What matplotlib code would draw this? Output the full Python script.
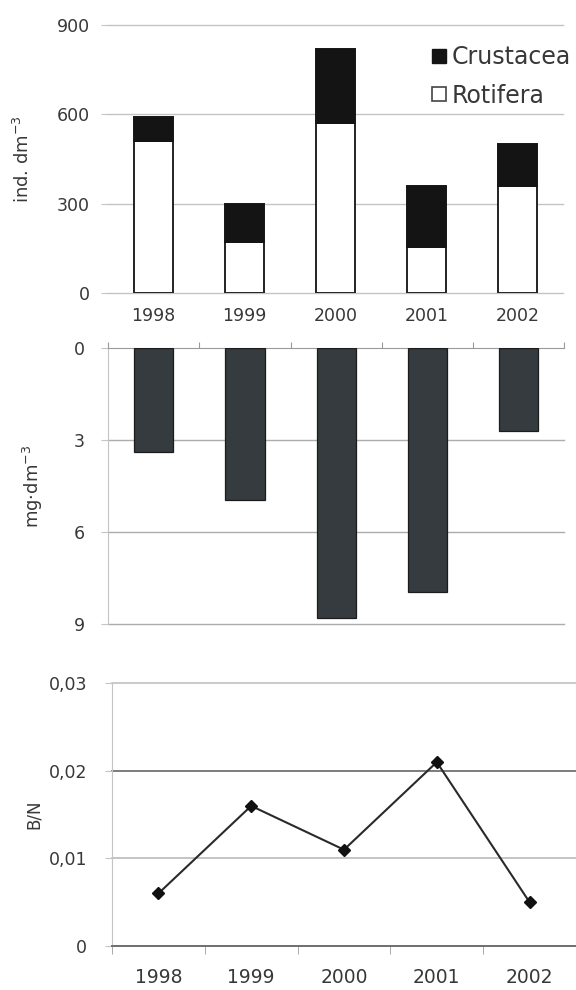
import matplotlib
matplotlib.use("Agg")
import matplotlib.pyplot as plt
import numpy as np
from matplotlib.lines import Line2D

years = ["1998", "1999", "2000", "2001", "2002"]
rotifera = [510, 170, 570, 155, 360]
crustacea = [80, 130, 250, 205, 140]
biomass = [3.4, 4.95, 8.8, 7.95, 2.7]
bn_ratio = [0.006, 0.016, 0.011, 0.021, 0.005]

abund_ticks = [0, 300, 600, 900]
biomass_ticks = [0, 3, 6, 9]
bn_ticks = [0, 0.01, 0.02, 0.03]
bn_tick_labels = ["0", "0,01", "0,02", "0,03"]

plt.rcParams["font.family"] = ["DejaVu Sans"]
TEXT = "#383838"
GRID = "#c4c4c4"
AXIS = "#9a9a9a"

fig = plt.figure(figsize=(5.76, 9.90), dpi=100)
x = np.arange(len(years))
bounds = np.arange(-0.5, len(years), 1.0)

# abundance, stacked bars
ax1 = fig.add_axes([0.1875, 0.7043, 0.790, 0.2704])
ax1.bar(x, rotifera, width=0.43, color="white", edgecolor="#222222",
        linewidth=1.4, zorder=3)
ax1.bar(x, crustacea, bottom=rotifera, width=0.43, color="#141414",
        edgecolor="#141414", linewidth=1.4, zorder=3)
ax1.set_xlim(-0.5, 4.5)
ax1.set_ylim(0, 900)
ax1.set_yticks(abund_ticks)
ax1.set_xticks(x, years)
# gridlines drawn unclipped so the ones on the limits show in full
for yv in abund_ticks:
    ax1.axhline(yv, color=GRID, linewidth=1.0, zorder=1, clip_on=False)
for s in ax1.spines.values():
    s.set_visible(False)
ax1.tick_params(axis="y", length=5, color=GRID, pad=8, labelsize=12.5, labelcolor=TEXT)
ax1.tick_params(axis="x", length=0, pad=10, labelsize=12.5, labelcolor=TEXT)
ax1.set_ylabel("ind. dm$^{-3}$", fontsize=13, color=TEXT)
ax1.yaxis.set_label_coords(-0.165, 0.5)

handles = [
    Line2D([], [], linestyle="none", marker="s", markersize=10,
           markerfacecolor="#141414", markeredgecolor="#141414"),
    Line2D([], [], linestyle="none", marker="s", markersize=9.5,
           markerfacecolor="white", markeredgecolor="#444444", markeredgewidth=1.2),
]
ax1.legend(handles, ["Crustacea", "Rotifera"], loc="upper left",
           bbox_to_anchor=(0.712, 0.925), frameon=False, fontsize=17,
           handlelength=0.6, handletextpad=0.25, labelspacing=0.62,
           borderpad=0, borderaxespad=0, labelcolor=TEXT)

# biomass, bars hanging from the top axis
ax2 = fig.add_axes([0.188, 0.3697, 0.791, 0.2785])
ax2.bar(x, biomass, width=0.43, color="#353b3e", edgecolor="#1c1c1c",
        linewidth=0.9, zorder=3)
ax2.set_xlim(-0.5, 4.5)
ax2.set_ylim(9, 0)
ax2.set_yticks(biomass_ticks)
ax2.xaxis.tick_top()
ax2.set_xticks(bounds)
ax2.set_xticklabels([])
for yv in biomass_ticks[1:]:
    ax2.axhline(yv, color="#acacac", linewidth=1.0, zorder=1, clip_on=False)
ax2.spines["bottom"].set_visible(False)
ax2.spines["right"].set_visible(False)
ax2.spines["left"].set_color(GRID)
ax2.spines["top"].set_color(AXIS)
ax2.tick_params(axis="x", direction="out", length=4, color=AXIS)
ax2.tick_params(axis="y", length=5, color=GRID, pad=12, labelsize=12.5, labelcolor=TEXT)
ax2.set_ylabel(r"mg$\cdot$dm$^{-3}$", fontsize=13, color=TEXT)
ax2.yaxis.set_label_coords(-0.139, 0.5)

# B/N ratio line
ax3 = fig.add_axes([0.1944, 0.0444, 0.8056, 0.2654])
ax3.plot(x, bn_ratio, color="#2a2a2a", linewidth=1.5, marker="D",
         markersize=6.5, markerfacecolor="#111111", markeredgecolor="#111111", zorder=3)
ax3.set_xlim(-0.5, 4.5)
ax3.set_ylim(0, 0.03)
ax3.set_yticks(bn_ticks, bn_tick_labels)
ax3.set_xticks(x, years)
ax3.set_xticks(bounds, minor=True)
for yv, c in zip(bn_ticks[1:], ["#b4b4b4", "#7c7c7c", "#bcbcbc"]):
    ax3.axhline(yv, color=c, linewidth=1.4 if c == "#7c7c7c" else 1.1,
                zorder=1, clip_on=False)
ax3.spines["top"].set_visible(False)
ax3.spines["right"].set_visible(False)
ax3.spines["left"].set_color(GRID)
ax3.spines["bottom"].set_color("#6e6e6e")
ax3.spines["bottom"].set_linewidth(1.4)
ax3.tick_params(axis="x", which="major", length=0, pad=16, labelsize=13.5, labelcolor=TEXT)
ax3.tick_params(axis="x", which="minor", length=6, color=AXIS)
ax3.tick_params(axis="y", length=5, color=GRID, pad=13, labelsize=12.5, labelcolor=TEXT)
ax3.set_ylabel("B/N", fontsize=12, color=TEXT)
ax3.yaxis.set_label_coords(-0.149, 0.5)

fig.savefig("out.png", dpi=100)
